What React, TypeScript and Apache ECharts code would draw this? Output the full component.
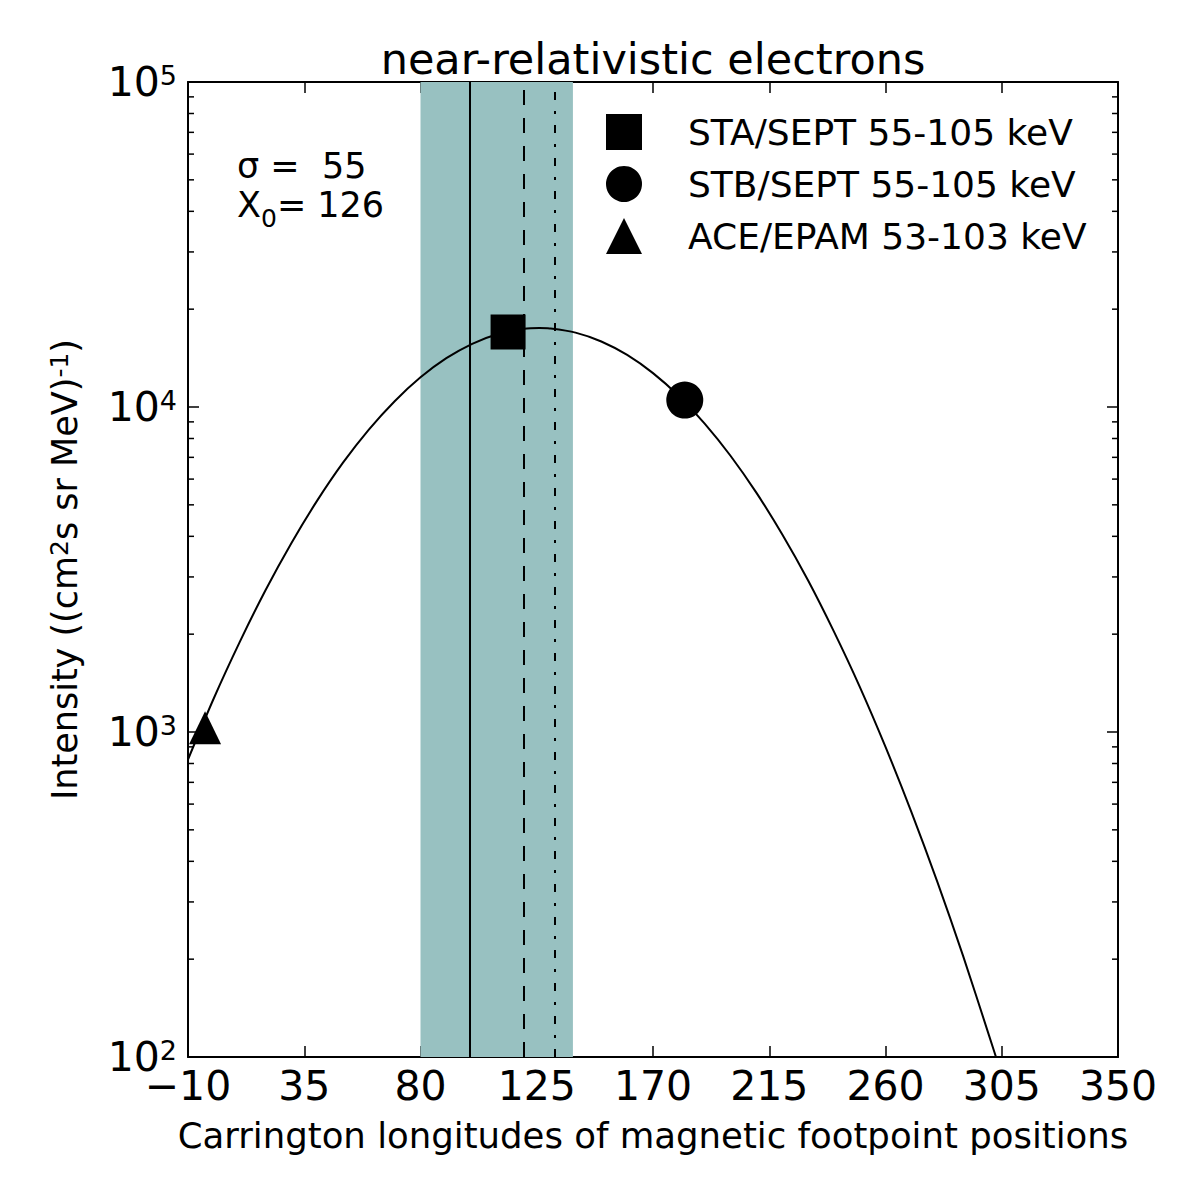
import React, { useEffect, useRef } from 'react';
import * as echarts from 'echarts';

// ---- data ----
const xTicks = [-10, 35, 80, 125, 170, 215, 260, 305, 350];
const yTicks = [100, 1000, 10000, 100000];
const yMinorTicks = [
  200, 300, 400, 500, 600, 700, 800, 900,
  2000, 3000, 4000, 5000, 6000, 7000, 8000, 9000,
  20000, 30000, 40000, 50000, 60000, 70000, 80000, 90000,
];

// fitted curve
const fitX = [-10, 0, 10, 20, 30, 40, 50, 60, 70, 80, 90, 100, 110, 120, 126, 130, 140, 150, 160, 170, 180, 190, 200, 210, 220, 230, 240, 250, 260, 270, 280, 290, 300, 305];
const fitY = [823, 1270, 1890, 2730, 3810, 5150, 6740, 8520, 10420, 12340, 14130, 15650, 16780, 17400, 17500, 17450, 16940, 15910, 14460, 12710, 10810, 8890, 7080, 5450, 4060, 2930, 2040, 1380, 900, 568, 347, 205, 117, 88];

const seriesNames = ['STA/SEPT 55-105 keV', 'STB/SEPT 55-105 keV', 'ACE/EPAM 53-103 keV'];
const staPoint = [113.9, 17000];
const stbPoint = [182.3, 10500];
const acePoint = [-3.4, 1030];

const bandRange = [80, 139];
const solidLineX = 99;
const dashedLineX = 120;
const dashDotLineX = 132;

const sigmaText = 'σ =  55';
const x0Value = '= 126';

const FONT = 'DejaVu Sans';

export default function App() {
  const ref = useRef<HTMLDivElement>(null);

  useEffect(() => {
    document.body.style.margin = '0';
    const chart = echarts.init(ref.current as HTMLDivElement, null, { renderer: 'svg' });

    const axisLine = { show: true, onZero: false, lineStyle: { color: '#000', width: 2 } };
    const tickStyle = { color: '#000', width: 1.5 };
    const majorX = { show: true, inside: true, length: 11, lineStyle: tickStyle, customValues: xTicks };
    const majorY = { show: true, inside: true, length: 11, lineStyle: tickStyle, customValues: yTicks };
    const yBase = { type: 'log', logBase: 10, min: 100, max: 100000, splitLine: { show: false } };

    const curve = fitX.map((x, i) => [x, fitY[i]]);
    const minorData = yMinorTicks.map((v) => [xTicks[0], v]);

    const option: any = {
      animation: false,
      backgroundColor: '#fff',
      title: {
        text: 'near-relativistic electrons',
        left: 653,
        top: 37,
        padding: 0,
        textAlign: 'center',
        textStyle: { fontFamily: FONT, fontSize: 43, fontWeight: 'normal', color: '#000' },
      },
      grid: { left: 188, top: 82, width: 930, height: 975, containLabel: false },
      legend: {
        orient: 'vertical',
        left: 606,
        top: 114,
        padding: 0,
        itemWidth: 36,
        itemHeight: 36,
        itemGap: 16,
        selectedMode: false,
        data: seriesNames,
        textStyle: { fontFamily: FONT, fontSize: 36, color: '#000', padding: [0, 0, 0, 41] },
      },
      xAxis: [
        {
          type: 'value',
          position: 'bottom',
          min: -10,
          max: 350,
          axisLine,
          axisTick: majorX,
          splitLine: { show: false },
          axisLabel: {
            customValues: xTicks,
            formatter: (v: number) => String(v).replace('-', '\u2212'),
            fontFamily: FONT,
            fontSize: 41,
            color: '#000',
            margin: 8,
          },
          name: 'Carrington longitudes of magnetic footpoint positions',
          nameLocation: 'middle',
          nameGap: 60,
          nameTextStyle: { fontFamily: FONT, fontSize: 35.5, color: '#000' },
        },
        {
          type: 'value',
          position: 'top',
          min: -10,
          max: 350,
          axisLine,
          axisTick: majorX,
          axisLabel: { show: false },
          splitLine: { show: false },
        },
      ],
      yAxis: [
        {
          ...yBase,
          position: 'left',
          axisLine,
          axisTick: majorY,
          axisLabel: {
            customValues: yTicks,
            margin: 11,
            formatter: (v: number) => `{b|10}{s|${Math.round(Math.log10(v))}}`,
            rich: {
              b: { fontFamily: FONT, fontSize: 41, color: '#000', verticalAlign: 'bottom' },
              s: { fontFamily: FONT, fontSize: 27, color: '#000', verticalAlign: 'top' },
            },
          },
          name: 'Intensity ((cm{s|2}s sr MeV){s|-1})',
          nameLocation: 'middle',
          nameRotate: 90,
          nameGap: 106,
          nameTextStyle: {
            fontFamily: FONT,
            fontSize: 35,
            color: '#000',
            rich: { s: { fontFamily: FONT, fontSize: 25, color: '#000', verticalAlign: 'top' } },
          },
        },
        { ...yBase, position: 'right', axisLine, axisTick: majorY, axisLabel: { show: false } },
      ],
      graphic: [
        {
          type: 'text',
          x: 237,
          y: 166,
          style: { text: sigmaText, fontFamily: FONT, fontSize: 35, fill: '#000', verticalAlign: 'middle' },
        },
        {
          type: 'text',
          x: 237,
          y: 205,
          style: {
            text: `X{sub|0}${x0Value}`,
            fontFamily: FONT,
            fontSize: 35,
            fill: '#000',
            verticalAlign: 'middle',
            rich: { sub: { fontFamily: FONT, fontSize: 25, fill: '#000', verticalAlign: 'bottom', padding: [0, 0, -8, 0] } },
          },
        },
      ],
      series: [
        {
          type: 'line',
          name: 'band',
          data: [],
          z: 1,
          silent: true,
          markArea: {
            silent: true,
            itemStyle: { color: '#98c1c1', opacity: 1 },
            data: [[{ xAxis: bandRange[0] }, { xAxis: bandRange[1] }]],
          },
        },
        {
          type: 'line',
          name: 'vlines',
          data: [],
          z: 2,
          silent: true,
          markLine: {
            silent: true,
            symbol: ['none', 'none'],
            label: { show: false },
            data: [
              { xAxis: solidLineX, lineStyle: { color: '#000', width: 2, type: 'solid' } },
              { xAxis: dashedLineX, lineStyle: { color: '#000', width: 2, type: [15, 13] } },
              { xAxis: dashDotLineX, lineStyle: { color: '#000', width: 2, type: [8, 11, 3, 11] } },
            ],
          },
        },
        {
          type: 'custom',
          name: 'minorTicks',
          data: minorData,
          encode: { x: 0, y: 1 },
          z: 5,
          silent: true,
          clip: false,
          renderItem: (params: any, api: any) => {
            const pt = api.coord([api.value(0), api.value(1)]);
            const cs = params.coordSys;
            const y = pt[1];
            const st = { stroke: '#000', lineWidth: 1.5 };
            return {
              type: 'group',
              children: [
                { type: 'line', shape: { x1: cs.x, y1: y, x2: cs.x + 6, y2: y }, style: st },
                { type: 'line', shape: { x1: cs.x + cs.width - 6, y1: y, x2: cs.x + cs.width, y2: y }, style: st },
              ],
            };
          },
        },
        {
          type: 'line',
          name: 'fit',
          data: curve,
          z: 3,
          symbol: 'none',
          smooth: 0.3,
          clip: true,
          lineStyle: { color: '#000', width: 2 },
        },
        {
          type: 'scatter',
          name: seriesNames[0],
          data: [staPoint],
          symbol: 'rect',
          symbolSize: 35,
          itemStyle: { color: '#000', opacity: 1 },
          z: 4,
        },
        {
          type: 'scatter',
          name: seriesNames[1],
          data: [stbPoint],
          symbol: 'circle',
          symbolSize: 37,
          itemStyle: { color: '#000', opacity: 1 },
          z: 4,
        },
        {
          type: 'scatter',
          name: seriesNames[2],
          data: [acePoint],
          symbol: 'triangle',
          symbolSize: [32, 33],
          itemStyle: { color: '#000', opacity: 1 },
          z: 4,
        },
      ],
    };

    chart.setOption(option);
    return () => chart.dispose();
  }, []);

  return <div ref={ref} style={{ width: 1196, height: 1196 }} />;
}
